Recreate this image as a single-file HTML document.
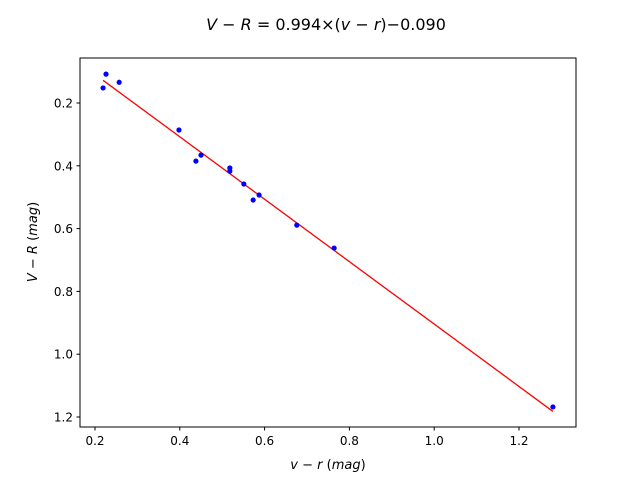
<!DOCTYPE html>
<html><head><meta charset="utf-8"><style>
body{margin:0;background:#fff;}
svg text{font-family:"DejaVu Sans","Liberation Sans",sans-serif;fill:#000;}
</style></head><body>
<svg id="chart" width="640" height="480">
<rect width="640" height="480" fill="#fff"/>
<text x="326" y="30" text-anchor="middle" font-size="16"><tspan font-style="italic">V</tspan> − <tspan font-style="italic">R</tspan> = 0.994×(<tspan font-style="italic">v</tspan> − <tspan font-style="italic">r</tspan>)−0.090</text>
<g id="plot"></g>
<rect x="80" y="58" width="496" height="369" fill="none" stroke="#000" stroke-width="1"/>
<text x="328" y="469" text-anchor="middle" font-size="13"><tspan font-style="italic">v</tspan> − <tspan font-style="italic">r</tspan>  (<tspan font-style="italic">mag</tspan>)</text>
<text transform="translate(37,242) rotate(-90)" text-anchor="middle" font-size="13"><tspan font-style="italic">V</tspan> − <tspan font-style="italic">R</tspan>  (<tspan font-style="italic">mag</tspan>)</text>
</svg>
<script>
const xs=[0.219,0.226,0.257,0.398,0.438,0.450,0.518,0.518,0.551,0.573,0.587,0.676,0.764,1.280];
const ys=[0.152,0.108,0.134,0.286,0.385,0.366,0.407,0.417,0.458,0.509,0.493,0.589,0.662,1.168];
const slope=0.994, intercept=-0.090;
const xTicks=[0.2,0.4,0.6,0.8,1.0,1.2];
const yTicks=[0.2,0.4,0.6,0.8,1.0,1.2];
const X=v=>95+(v-0.2)*424;
const Y=v=>103+(v-0.2)*314;
const NS="http://www.w3.org/2000/svg";
const g=document.getElementById('plot');
function mk(t,a){const e=document.createElementNS(NS,t);for(const k in a)e.setAttribute(k,a[k]);g.appendChild(e);return e;}
xTicks.forEach(t=>{
 const l=mk('line',{x1:X(t),x2:X(t),y1:427,y2:430.5,stroke:'#000'});
 
 
 const s=mk('text',{x:X(t),y:445,'text-anchor':'middle','font-size':'12'});s.textContent=t.toFixed(1);
 
 
});
yTicks.forEach(t=>{
 const l=mk('line',{x1:76.5,x2:80,y1:Y(t),y2:Y(t),stroke:'#000'});
 
 
 const s=mk('text',{x:73,y:Y(t)+4.5,'text-anchor':'end','font-size':'12'});s.textContent=t.toFixed(1);
 
 
});
const xmin=Math.min(...xs),xmax=Math.max(...xs);
const fl=mk('line',{x1:X(xmin),y1:Y(slope*xmin+intercept),x2:X(xmax),y2:Y(slope*xmax+intercept),stroke:'#ff0000','stroke-width':1.3});


xs.forEach((x,i)=>{
 const c=mk('circle',{cx:X(x),cy:Y(ys[i]),r:2.6,fill:'#0000ff'});
 
 
});
</script>
</body></html>
